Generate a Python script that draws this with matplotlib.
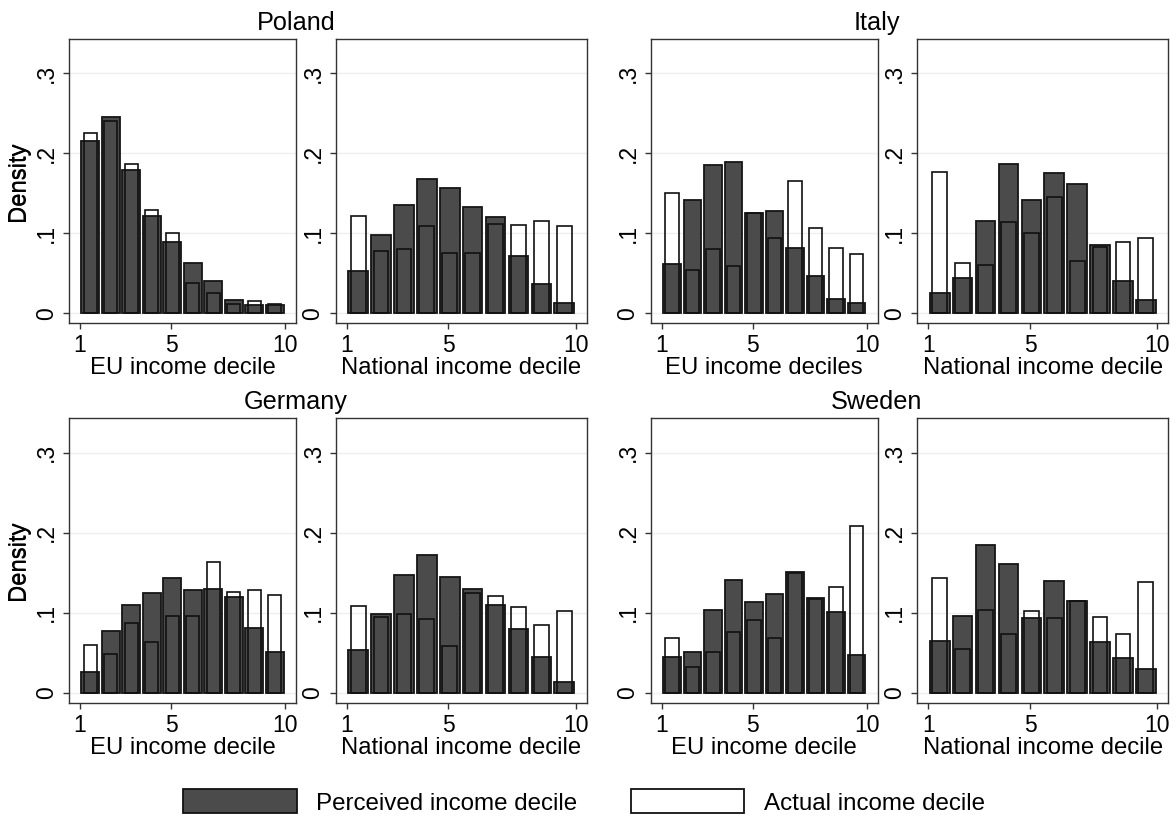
import numpy as np
import matplotlib
matplotlib.use('Agg')
import matplotlib.pyplot as plt
from matplotlib.patches import Patch

plt.rcParams['font.family'] = ['Liberation Sans', 'DejaVu Sans']

# deciles 1..10, histogram bins of width 0.9 starting at 1
deciles = np.arange(1, 11)

poland_eu_perceived = [0.215, 0.245, 0.179, 0.122, 0.089, 0.063, 0.041, 0.017, 0.010, 0.010]
poland_eu_actual = [0.226, 0.241, 0.187, 0.129, 0.101, 0.038, 0.026, 0.012, 0.015, 0.012]
poland_nat_perceived = [0.053, 0.098, 0.135, 0.168, 0.157, 0.133, 0.121, 0.072, 0.037, 0.013]
poland_nat_actual = [0.122, 0.078, 0.080, 0.109, 0.075, 0.076, 0.112, 0.110, 0.115, 0.109]

italy_eu_perceived = [0.062, 0.142, 0.185, 0.189, 0.126, 0.128, 0.082, 0.047, 0.018, 0.013]
italy_eu_actual = [0.150, 0.054, 0.080, 0.059, 0.125, 0.094, 0.165, 0.107, 0.082, 0.074]
italy_nat_perceived = [0.025, 0.044, 0.115, 0.187, 0.142, 0.175, 0.162, 0.085, 0.040, 0.017]
italy_nat_actual = [0.177, 0.063, 0.060, 0.114, 0.100, 0.145, 0.065, 0.083, 0.089, 0.094]

germany_eu_perceived = [0.026, 0.077, 0.110, 0.125, 0.144, 0.128, 0.130, 0.120, 0.081, 0.051]
germany_eu_actual = [0.060, 0.049, 0.087, 0.063, 0.096, 0.096, 0.164, 0.126, 0.128, 0.122]
germany_nat_perceived = [0.054, 0.098, 0.147, 0.172, 0.145, 0.130, 0.110, 0.080, 0.045, 0.013]
germany_nat_actual = [0.108, 0.095, 0.099, 0.092, 0.059, 0.125, 0.121, 0.107, 0.085, 0.102]

sweden_eu_perceived = [0.045, 0.051, 0.104, 0.141, 0.113, 0.123, 0.151, 0.118, 0.101, 0.047]
sweden_eu_actual = [0.069, 0.032, 0.051, 0.076, 0.091, 0.068, 0.150, 0.117, 0.132, 0.208]
sweden_nat_perceived = [0.065, 0.096, 0.185, 0.161, 0.094, 0.140, 0.115, 0.064, 0.043, 0.030]
sweden_nat_actual = [0.144, 0.055, 0.103, 0.073, 0.102, 0.093, 0.115, 0.095, 0.073, 0.138]

countries = ['Poland', 'Italy', 'Germany', 'Sweden']
xlabels = ['EU income decile', 'National income decile', 'EU income deciles', 'National income decile',
           'EU income decile', 'National income decile', 'EU income decile', 'National income decile']

panels = [
    (poland_eu_perceived, poland_eu_actual),
    (poland_nat_perceived, poland_nat_actual),
    (italy_eu_perceived, italy_eu_actual),
    (italy_nat_perceived, italy_nat_actual),
    (germany_eu_perceived, germany_eu_actual),
    (germany_nat_perceived, germany_nat_actual),
    (sweden_eu_perceived, sweden_eu_actual),
    (sweden_nat_perceived, sweden_nat_actual),
]

W, H = 1176, 816
dark = '#4b4b4b'

fig = plt.figure(figsize=(W / 100, H / 100), dpi=100)

# pixel boxes of the plot regions
cols = [(69, 296), (335.7, 586.7), (650.7, 877.7), (917.3, 1168.3)]
rows = [(39, 323.3), (418.3, 702.7)]
centers = 1 + 0.9 * (deciles - 1) + 0.45

for i, (perc, act) in enumerate(panels):
    r, c = divmod(i, 4)
    x0, x1 = cols[c]
    y0, y1 = rows[r]
    ax = fig.add_axes([x0 / W, 1 - y1 / H, (x1 - x0) / W, (y1 - y0) / H])

    ax.bar(centers, perc, width=0.77, color=dark, edgecolor='#151515', linewidth=1.3, zorder=2)
    ax.bar(centers, act, width=0.58, facecolor='none', edgecolor='#111111', linewidth=1.2, zorder=3)

    scale = (x1 - x0 - 22) / 9
    ax.set_xlim(1 - 11 / scale, 10 + 11 / scale)
    ax.set_ylim(-0.0125, 0.343)
    ax.set_xticks([1, 5, 10])
    ax.set_xticklabels(['1', '5', '10'])
    ax.set_yticks([0, 0.1, 0.2, 0.3])
    ax.set_yticklabels(['0', '.1', '.2', '.3'], rotation=90, va='center')
    for v in [0, 0.1, 0.2, 0.3]:
        ax.axhline(v, color='#efefef', lw=1, zorder=1)
    ax.tick_params(labelsize=16.5, length=4, width=1, color='#333333', pad=4)
    for s in ax.spines.values():
        s.set_color('#333333')
        s.set_linewidth(1)
    ax.set_xlabel(xlabels[i], fontsize=17.2, labelpad=0)
    if c in (0, 2):
        ax.set_ylabel('Density', fontsize=17.2)
        ax.yaxis.set_label_coords((29.5 - x0) / (x1 - x0), 0.5)

title_pos = [(296, 30), (877, 30), (296, 409), (877, 409)]
for name, (tx, ty) in zip(countries, title_pos):
    fig.text(tx / W, 1 - ty / H, name, fontsize=18.2, ha='center', va='baseline')

handles = [Patch(facecolor=dark, edgecolor='#111111', linewidth=1.3),
           Patch(facecolor='white', edgecolor='#111111', linewidth=1.3)]
fig.legend(handles, ['Perceived income decile', 'Actual income decile'], ncol=2, frameon=False,
           loc='center', bbox_to_anchor=(584 / W, 1 - 802 / H), fontsize=17.4,
           handlelength=4.7, handleheight=1.15, handletextpad=0.8, columnspacing=2.2)

fig.savefig('out.png', dpi=100)
